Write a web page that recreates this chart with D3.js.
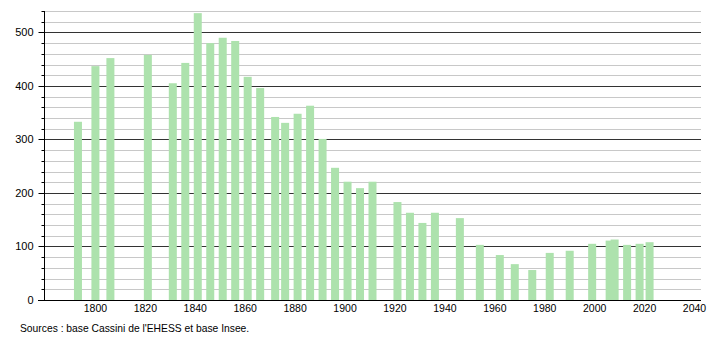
<!DOCTYPE html>
<html>
<head>
<meta charset="utf-8">
<script src="https://cdn.jsdelivr.net/npm/d3@7"></script>
<style>
  body { margin: 0; background: #fff; }
  svg { display: block; font-family: "Liberation Sans", Arial, sans-serif; }
</style>
</head>
<body>
<div class="chart"></div>
<script>
const w = 710;
const h = 340;

// census years and population
const years = [1793, 1800, 1806, 1821, 1831, 1836, 1841, 1846, 1851, 1856,
    1861, 1866, 1872, 1876, 1881, 1886, 1891, 1896, 1901, 1906,
    1911, 1921, 1926, 1931, 1936, 1946, 1954, 1962, 1968, 1975,
    1982, 1990, 1999, 2006, 2008, 2013, 2018, 2022];
const population = [333, 437, 452, 458, 405, 443, 536, 480, 490, 484,
    417, 396, 342, 331, 348, 363, 301, 247, 221, 209,
    221, 183, 163, 144, 163, 153, 103, 84, 67, 56,
    88, 92, 105, 111, 113, 103, 105, 108];
const xTicks = [1800, 1820, 1840, 1860, 1880, 1900, 1920, 1940, 1960, 1980, 2000, 2020, 2040];
const yMajor = [0, 100, 200, 300, 400, 500];
const yMinor = d3.range(20, 541, 20).filter(v => v % 100 !== 0);
const source = "Sources : base Cassini de l'EHESS et base Insee.";

const svg = d3.select(".chart")
    .append("svg")
    .attr("width", w)
    .attr("height", h)

const x = d3.scaleLinear().domain([1779.4, 2042.6]).range([44, 701]);
const y = d3.scaleLinear().domain([0, 540]).range([300, 11]);

// minor grid
svg.append("g")
    .selectAll("line")
    .data(yMinor)
    .enter()
    .append("line")
    .attr("x1", 44)
    .attr("x2", 701)
    .attr("y1", d => Math.round(y(d)) + 0.5)
    .attr("y2", d => Math.round(y(d)) + 0.5)
    .attr("stroke", "#c8c8c8")

// major grid
svg.append("g")
    .selectAll("line")
    .data(yMajor.filter(d => d > 0))
    .enter()
    .append("line")
    .attr("x1", 44)
    .attr("x2", 701)
    .attr("y1", d => Math.round(y(d)) + 0.5)
    .attr("y2", d => Math.round(y(d)) + 0.5)
    .attr("stroke", "#333")

// bars
svg.append("g")
    .selectAll("rect")
    .data(years)
    .enter()
    .append("rect")
    .attr("x", d => x(d) - 4)
    .attr("width", 8)
    .attr("y", (d, i) => y(population[i]))
    .attr("height", (d, i) => y(0) - y(population[i]))
    .attr("fill", "#ade2ad")

// y axis
const yAxis = svg.append("g").attr("transform", "translate(44.5,0)");
yAxis.append("line")
    .attr("y1", 11)
    .attr("y2", 300)
    .attr("stroke", "#000")
yAxis.selectAll(".minor")
    .data(yMinor)
    .enter()
    .append("line")
    .attr("x1", -3)
    .attr("x2", 0)
    .attr("y1", d => Math.round(y(d)) + 0.5)
    .attr("y2", d => Math.round(y(d)) + 0.5)
    .attr("stroke", "#000")
yAxis.selectAll(".major")
    .data(yMajor)
    .enter()
    .append("line")
    .attr("x1", -6)
    .attr("x2", 0)
    .attr("y1", d => Math.round(y(d)) + 0.5)
    .attr("y2", d => Math.round(y(d)) + 0.5)
    .attr("stroke", "#000")
yAxis.selectAll("text")
    .data(yMajor)
    .enter()
    .append("text")
    .attr("x", -11)
    .attr("y", d => y(d) + 4)
    .attr("text-anchor", "end")
    .style("font-size", "11px")
    .text(d => d)

// x axis
svg.append("line")
    .attr("x1", 38)
    .attr("x2", 701)
    .attr("y1", 300.5)
    .attr("y2", 300.5)
    .attr("stroke", "#000")

svg.append("g")
    .selectAll("text")
    .data(xTicks)
    .enter()
    .append("text")
    .attr("x", d => x(d))
    .attr("y", 312)
    .attr("text-anchor", "middle")
    .style("font-size", "10.5px")
    .text(d => d)

svg.append("text")
    .attr("x", 20)
    .attr("y", 332)
    .style("font-size", "10.3px")
    .text(source)
</script>
</body>
</html>
